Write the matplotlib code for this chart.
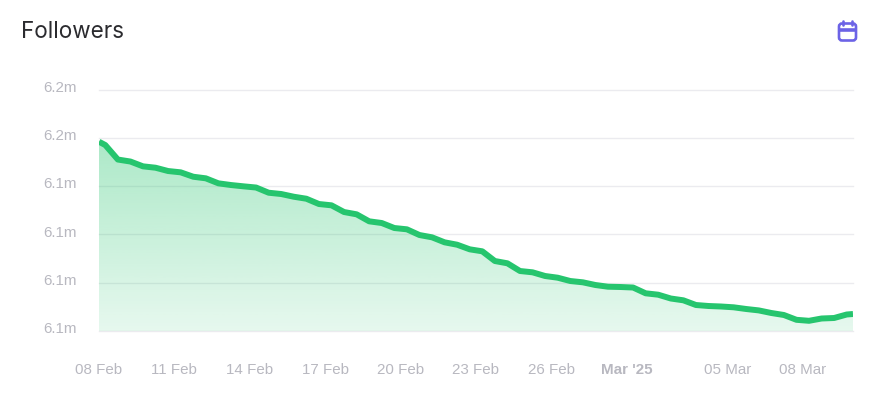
import numpy as np
import matplotlib
matplotlib.use("Agg")
import matplotlib.pyplot as plt
from matplotlib.patches import FancyBboxPatch
from matplotlib.transforms import ScaledTranslation

title = "Followers"
# samples sit half way between the half-day grid lines, plus both chart ends
half_days = [0] + [k + 0.5 for k in range(60)] + [60]
followers = [
    6149593, 6149251, 6147750, 6147543, 6147046, 6146902, 6146560, 6146425, 6145970, 6145804,
    6145287, 6145111, 6144976, 6144852, 6144314, 6144180, 6143900, 6143693, 6143145, 6143010,
    6142317, 6142078, 6141354, 6141178, 6140661, 6140526, 6139936, 6139698, 6139180, 6138932,
    6138456, 6138249, 6137245, 6137007, 6136210, 6136075, 6135693, 6135517, 6135175, 6135040,
    6134761, 6134585, 6134554, 6134502, 6133902, 6133757, 6133364, 6133177, 6132691, 6132588,
    6132536, 6132453, 6132277, 6132132, 6131863, 6131656, 6131159, 6131056, 6131294, 6131346,
    6131708, 6131760,
]
y_ticks = [6130000, 6135000, 6140000, 6145000, 6150000, 6155000]
y_labels = ["6.1m", "6.1m", "6.1m", "6.1m", "6.2m", "6.2m"]
x_ticks = [0, 6, 12, 18, 24, 30, 36, 42, 50, 56]
x_labels = ["08 Feb", "11 Feb", "14 Feb", "17 Feb", "20 Feb", "23 Feb", "26 Feb",
            "Mar '25", "05 Mar", "08 Mar"]
bold_label = "Mar '25"

GREEN = "#26c56e"
GRID = "#ebebef"
LABEL = "#b8b8c0"
PURPLE = "#6c63e6"
W, H = 892, 394

fig = plt.figure(figsize=(W / 100, H / 100), dpi=100, facecolor="white")
ax = fig.add_axes([99 / W, 1 - 331 / H, 754 / W, (331 - 89.5) / H])
ax.set_xlim(0, 60)
ax.set_ylim(y_ticks[0], y_ticks[-1])
for s in ax.spines.values():
    s.set_visible(False)
ax.set_yticks(y_ticks)
ax.set_yticklabels(y_labels, family="Liberation Sans", fontsize=10.9, color=LABEL)
ax.set_xticks(x_ticks)
ax.set_xticklabels(x_labels, family="Liberation Sans", fontsize=10.9, color=LABEL)
ax.tick_params(axis="both", length=0)
ax.tick_params(axis="y", pad=16.2)
ax.tick_params(axis="x", pad=23.3)
for lab in ax.get_xticklabels():
    if lab.get_text() == bold_label:
        lab.set_fontweight("bold")
shift = ScaledTranslation(0, 3.3 / 100, fig.dpi_scale_trans)
for lab in ax.get_yticklabels():
    lab.set_transform(lab.get_transform() + shift)
ax.grid(axis="y", color=GRID, lw=1, clip_on=False)
ax.set_axisbelow(True)

# gradient fill under the line
grad = np.zeros((256, 1, 4))
grad[..., :3] = matplotlib.colors.to_rgb(GREEN)
grad[..., 3] = np.linspace(0.115, 0.38, 256)[:, None]
top = max(followers)
im = ax.imshow(grad, extent=[0, 60, y_ticks[0], top], origin="lower", aspect="auto", zorder=2)
poly = ax.fill_between(half_days, followers, y_ticks[0], color="none", lw=0)
path = poly.get_paths()[0]
im.set_clip_path(path, transform=ax.transData)
ax.set_xlim(0, 60)
ax.set_ylim(y_ticks[0], y_ticks[-1])

ax.plot(half_days, followers, color=GREEN, lw=4.3, solid_joinstyle="round",
        solid_capstyle="butt", zorder=3)

fig.text(21 / W, 1 - 31.5 / H, title, family="Inter", fontsize=16.2, color="#2b2b2f",
         va="center", ha="left")

# calendar icon (pixel overlay)
ov = fig.add_axes([0, 0, 1, 1], facecolor="none")
ov.set_xlim(0, W)
ov.set_ylim(H, 0)
ov.axis("off")
ov.add_patch(FancyBboxPatch((839, 23.5), 17, 17, boxstyle="round,pad=0,rounding_size=3",
                            fc="none", ec=PURPLE, lw=1.9))
ov.plot([839, 856], [29.5, 29.5], color=PURPLE, lw=2.6, solid_capstyle="butt")
ov.plot([843, 843], [20.5, 25], color=PURPLE, lw=1.9, solid_capstyle="round")
ov.plot([851.5, 851.5], [20.5, 25], color=PURPLE, lw=1.9, solid_capstyle="round")

fig.savefig("out.png", dpi=100, facecolor="white")
